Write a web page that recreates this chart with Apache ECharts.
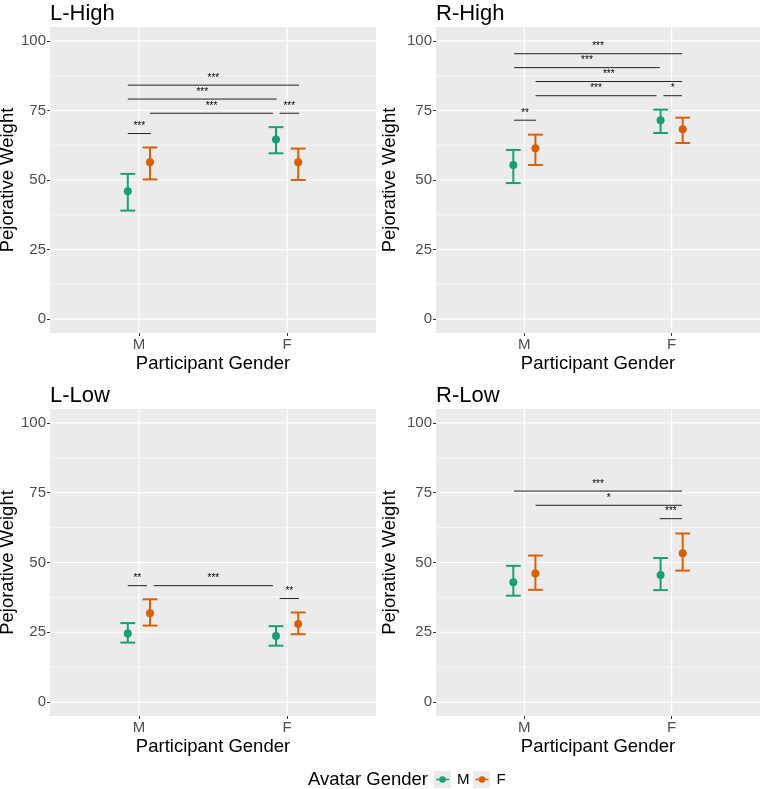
<!DOCTYPE html>
<html lang="en">

<head>
    <meta charset="UTF-8">
    <title>Pejorative Weight</title>
    <script src="https://cdn.jsdelivr.net/npm/echarts@6.0.0/dist/echarts.min.js"></script>
    <style>
        html, body { margin: 0; padding: 0; background: #fff; }
    </style>
</head>

<body>
    <div id="echart" style="width: 762px; height: 789px;"></div>
</body>

<script>
    // ---- data ----
    const panelNames = ['L-High', 'R-High', 'L-Low', 'R-Low'];
    const participantGender = ['M', 'F'];
    const avatarGender = ['M', 'F'];

    // avatar M (green): mean, lower, upper per participant gender
    const avatarM_mean = [[46.0, 64.6], [55.4, 71.5], [24.6, 23.7], [42.9, 45.5]];
    const avatarM_low  = [[39.0, 59.6], [48.9, 66.9], [21.3, 20.2], [38.1, 40.1]];
    const avatarM_high = [[52.2, 69.0], [60.8, 75.3], [28.3, 27.2], [48.8, 51.6]];
    // avatar F (orange)
    const avatarF_mean = [[56.4, 56.4], [61.4, 68.2], [31.8, 28.0], [46.1, 53.3]];
    const avatarF_low  = [[50.2, 50.0], [55.4, 63.3], [27.4, 24.3], [40.2, 47.1]];
    const avatarF_high = [[61.7, 61.3], [66.3, 72.4], [36.8, 32.1], [52.5, 60.4]];

    // significance brackets: [x from, x to, y, label]
    const brackets = [
        [[0.925, 1.08, 66.7, '***'], [1.075, 1.905, 74.0, '***'], [1.95, 2.08, 74.0, '***'],
         [0.925, 1.93, 79.1, '***'], [0.925, 2.08, 84.1, '***']],
        [[0.93, 1.08, 71.5, '**'], [1.076, 1.897, 80.3, '***'], [1.944, 2.07, 80.3, '*'],
         [1.076, 2.07, 85.4, '***'], [0.93, 1.92, 90.4, '***'], [0.93, 2.07, 95.4, '***']],
        [[0.925, 1.054, 41.7, '**'], [1.10, 1.905, 41.7, '***'], [1.95, 2.08, 37.1, '**']],
        [[1.92, 2.07, 65.7, '***'], [1.076, 2.07, 70.5, '*'], [0.93, 2.07, 75.6, '***']]
    ];

    const yTicks = [0, 25, 50, 75, 100];
    const yMinor = [12.5, 37.5, 62.5, 87.5];
    const xTicks = [1, 2];

    // ---- style ----
    const FONT = '"Liberation Sans", Arial, sans-serif';
    const colors = ['#1B9E77', '#D95F02'];
    const dodge = 0.075;
    const capHalf = 0.05;

    // panel boxes [left, top, width, height, y-title gap]
    const boxes = [[50, 27, 326, 306, 32], [436, 27, 324, 306, 37], [50, 409, 326, 307, 32], [436, 409, 324, 307, 37]];

    const grids = [], xAxes = [], yAxes = [], titles = [], series = [];

    boxes.forEach((b, p) => {
        grids.push({
            left: b[0], top: b[1], width: b[2], height: b[3],
            outerBoundsMode: 'none', containLabel: false,
            show: true, backgroundColor: '#EBEBEB', borderWidth: 0
        });
        titles.push({
            text: panelNames[p], left: b[0], top: b[1] - 24, padding: 0,
            textStyle: { fontFamily: FONT, fontSize: 22, fontWeight: 'normal', color: '#000' }
        });
        xAxes.push({
            gridIndex: p, type: 'value', min: 0.4, max: 2.6,
            name: 'Participant Gender', nameLocation: 'middle', nameGap: 21,
            nameTextStyle: { fontFamily: FONT, fontSize: 18.5, color: '#000', verticalAlign: 'top' },
            axisLine: { show: false, onZero: false },
            splitLine: { show: false },
            axisTick: { show: true, customValues: xTicks, length: 3, lineStyle: { color: '#333', width: 1 } },
            axisLabel: {
                customValues: xTicks, margin: 4, fontFamily: FONT, fontSize: 15, color: '#4D4D4D',
                formatter: v => participantGender[Math.round(v) - 1]
            }
        });
        yAxes.push({
            gridIndex: p, type: 'value', min: -5, max: 105,
            name: 'Pejorative Weight', nameLocation: 'middle', nameGap: b[4],
            nameTextStyle: { fontFamily: FONT, fontSize: 18.5, color: '#000' },
            axisLine: { show: false, onZero: false },
            splitLine: { show: false },
            axisTick: { show: true, customValues: yTicks, length: 3, lineStyle: { color: '#333', width: 1 } },
            axisLabel: { customValues: yTicks, margin: 4, fontFamily: FONT, fontSize: 15, color: '#4D4D4D' }
        });

        // grid lines
        const hLine = (vals, w) => ({
            type: 'custom', xAxisIndex: p, yAxisIndex: p, silent: true, z: 1,
            data: vals.map(v => [v]),
            renderItem: (params, api) => {
                const cs = params.coordSys;
                const y = api.coord([1, api.value(0)])[1];
                return {
                    type: 'line',
                    shape: { x1: cs.x, y1: y, x2: cs.x + cs.width, y2: y },
                    style: { stroke: '#FFFFFF', lineWidth: w }
                };
            }
        });
        series.push(hLine(yMinor, 0.6));
        series.push(hLine(yTicks, 1.2));
        series.push({
            type: 'custom', xAxisIndex: p, yAxisIndex: p, silent: true, z: 1,
            data: xTicks.map(v => [v]),
            renderItem: (params, api) => {
                const cs = params.coordSys;
                const x = api.coord([api.value(0), 50])[0];
                return {
                    type: 'line',
                    shape: { x1: x, y1: cs.y, x2: x, y2: cs.y + cs.height },
                    style: { stroke: '#FFFFFF', lineWidth: 1.2 }
                };
            }
        });

        // error bars + points for both avatar genders
        const groups = [
            [avatarM_mean[p], avatarM_low[p], avatarM_high[p], -dodge],
            [avatarF_mean[p], avatarF_low[p], avatarF_high[p], dodge]
        ];
        groups.forEach((g, k) => {
            series.push({
                type: 'custom', xAxisIndex: p, yAxisIndex: p, silent: true, z: 3,
                data: xTicks.map((x, i) => [x + g[3], g[1][i], g[2][i]]),
                renderItem: (params, api) => {
                    const x = api.value(0);
                    const lo = api.coord([x, api.value(1)]);
                    const hi = api.coord([x, api.value(2)]);
                    const l = api.coord([x - capHalf, 0])[0];
                    const r = api.coord([x + capHalf, 0])[0];
                    const st = { stroke: colors[k], lineWidth: 2 };
                    return {
                        type: 'group', children: [
                            { type: 'line', shape: { x1: lo[0], y1: lo[1], x2: hi[0], y2: hi[1] }, style: st },
                            { type: 'line', shape: { x1: l, y1: lo[1], x2: r, y2: lo[1] }, style: st },
                            { type: 'line', shape: { x1: l, y1: hi[1], x2: r, y2: hi[1] }, style: st }
                        ]
                    };
                }
            });
            series.push({
                name: avatarGender[k], type: 'scatter', xAxisIndex: p, yAxisIndex: p, z: 4,
                symbol: 'circle', symbolSize: 8,
                itemStyle: { color: colors[k], opacity: 1 },
                data: xTicks.map((x, i) => [x + g[3], g[0][i]])
            });
        });

        // significance brackets
        const br = brackets[p];
        series.push({
            type: 'custom', xAxisIndex: p, yAxisIndex: p, silent: true, z: 5,
            data: br.map(d => [d[0], d[1], d[2]]),
            renderItem: (params, api) => {
                const a = api.coord([api.value(0), api.value(2)]);
                const c = api.coord([api.value(1), api.value(2)]);
                return {
                    type: 'group', children: [
                        { type: 'line', shape: { x1: a[0], y1: a[1], x2: c[0], y2: a[1] },
                          style: { stroke: '#222', lineWidth: 1 } },
                        { type: 'text', x: (a[0] + c[0]) / 2, y: a[1] - 2,
                          style: { text: br[params.dataIndex][3], fill: '#000', fontSize: 10,
                                   fontFamily: FONT, align: 'center', verticalAlign: 'bottom' } }
                    ]
                };
            }
        });
    });

    const legendIcon = 'path://M0,2.55H3.3V4.05H0Z M9.7,2.55H13V4.05H9.7Z M3.2,3.3A3.3,3.3 0 1,0 9.8,3.3A3.3,3.3 0 1,0 3.2,3.3Z';

    const myChart = echarts.init(document.getElementById('echart'));
    myChart.setOption({
        animation: false,
        textStyle: { fontFamily: FONT },
        title: titles,
        grid: grids,
        xAxis: xAxes,
        yAxis: yAxes,
        legend: {
            data: avatarGender.map(n => ({ name: n, icon: legendIcon })),
            left: 436, top: 772, padding: 0,
            itemWidth: 13, itemHeight: 6.6, itemGap: 6,
            selectedMode: false,
            textStyle: { fontFamily: FONT, fontSize: 15, color: '#000', padding: [0, 0, 0, 3] }
        },
        graphic: [
            { type: 'text', left: 308, top: 770, z: 10,
              style: { text: 'Avatar Gender', fontFamily: FONT, fontSize: 18.5, fill: '#000' } },
            { type: 'rect', left: 434, top: 771, z: 0, shape: { width: 17, height: 17 }, style: { fill: '#EBEBEB' } },
            { type: 'rect', left: 473, top: 771, z: 0, shape: { width: 17, height: 17 }, style: { fill: '#EBEBEB' } }
        ],
        series: series
    });
</script>

</html>
